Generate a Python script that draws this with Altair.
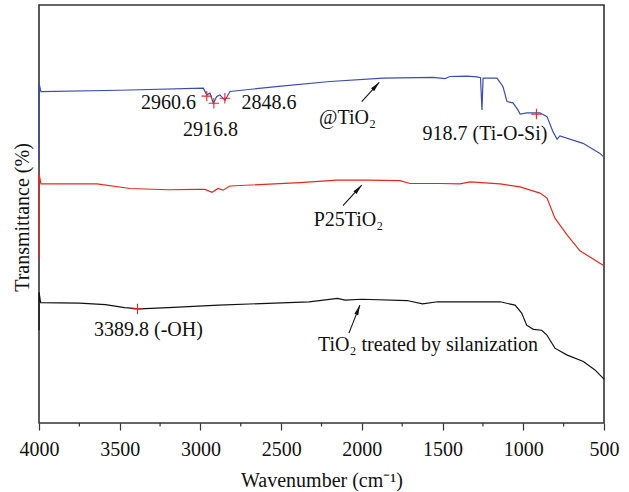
import altair as alt
import pandas as pd

# ---- spectra (wavenumber, transmittance a.u.) ----
blue_wn = [4000, 4000, 3988, 3498, 2982, 2961, 2941, 2920, 2899, 2879, 2848, 2817, 2500, 2197, 1869,
           1559, 1485, 1454, 1349, 1287, 1265, 1256, 1249, 1163, 1126, 1101, 1064, 1033, 1020,
           977, 897, 853, 816, 791, 773, 630, 525, 500]
blue_t = [62.9, 81.3, 79.3, 79.6, 80.1, 78.5, 78.9, 76.5, 78.1, 78.5, 77.2, 79.3, 80.6, 81.7, 82.5,
          82.7, 82.4, 82.9, 83.0, 82.8, 82.6, 74.9, 82.5, 82.5, 80.5, 76.9, 76.6, 74.9, 73.9,
          74.2, 74.2, 73.3, 69.7, 67.9, 68.7, 66.9, 64.5, 63.6]

red_wn = [4000, 4000, 3988, 3641, 3436, 3200, 3021, 2972, 2928, 2891, 2860, 2817, 2383, 2154, 1968,
          1764, 1702, 1516, 1392, 1330, 1144, 1020, 897, 853, 804, 729, 649, 500]
red_t = [39.5, 59.6, 57.2, 57.2, 56.1, 55.8, 55.9, 55.9, 55.2, 56.1, 55.7, 56.7, 57.5, 58.1, 58.1,
         58.0, 57.3, 57.3, 57.2, 57.7, 57.2, 56.5, 55.0, 53.8, 49.0, 45.0, 41.2, 37.6]

black_wn = [4000, 4000, 3990, 3750, 3588, 3470, 3378, 3200, 2887, 2327, 2151, 2104, 1999, 1720, 1624,
            1531, 1144, 1051, 1010, 979, 938, 886, 855, 804, 731, 628, 556, 500]
black_t = [22.2, 31.3, 28.8, 28.7, 28.3, 27.6, 27.3, 27.6, 28.2, 29.0, 29.8, 29.4, 29.6, 29.3, 28.5,
           29.0, 29.0, 28.2, 26.3, 23.4, 22.4, 22.2, 21.1, 17.9, 16.3, 14.7, 12.7, 10.5]

# ---- peak markers ----
mark_wn = [2960.6, 2916.8, 2848.6, 918.7, 3389.8]
mark_t = [78.2, 76.5, 77.7, 73.9, 27.3]

# ---- annotation labels ----
labels = ["2960.6", "2916.8", "2848.6", "@TiO₂", "918.7 (Ti-O-Si)", "P25TiO₂",
          "3389.8 (-OH)", "TiO₂ treated by silanization"]
label_wn = [3198, 2938, 2575, 2089, 1237, 2083, 3322, 1590]
label_t = [76.6, 70.1, 76.6, 73.0, 69.1, 48.6, 22.2, 18.7]

# ---- arrows ----
arrow_wn = [2001, 2117, 2080]
arrow_t = [76.9, 52.0, 21.5]
arrow_wn2 = [1892, 2001, 2012]
arrow_t2 = [81.5, 56.9, 28.2]
arrow_ang = [42, 42, 21]

major_ticks = [4000, 3500, 3000, 2500, 2000, 1500, 1000, 500]
minor_ticks = [3750, 3250, 2750, 2250, 1750, 1250, 750]

FONT = "Liberation Serif, Times New Roman, serif"

rows = []
for name, wn, t in [("blue", blue_wn, blue_t), ("red", red_wn, red_t), ("black", black_wn, black_t)]:
    for i, (a, b) in enumerate(zip(wn, t)):
        rows.append({"series": name, "wn": a, "t": b, "i": i})
spec = pd.DataFrame(rows)

xscale = alt.Scale(domain=[500, 4000], reverse=True, nice=False, zero=False)
yscale = alt.Scale(domain=[0, 100], nice=False, zero=False)

xaxis = alt.Axis(values=major_ticks, format="d", title="Wavenumber (cm⁻¹)", tickSize=7,
                 tickColor="#333", tickWidth=1.2, domain=False, grid=False, labelFont=FONT,
                 labelFontSize=20, labelColor="#111", labelPadding=9, titleFont=FONT,
                 titleFontSize=20, titleFontWeight="normal", titleColor="#111", titlePadding=11,
                 labelFlush=False)
yaxis = alt.Axis(labels=False, ticks=False, domain=False, grid=False, title="Transmittance (%)",
                 titleFont=FONT, titleFontSize=20, titleFontWeight="normal", titleColor="#111",
                 titleX=-17, titleY=212, titleBaseline="middle")

lines = alt.Chart(spec).mark_line(strokeWidth=1.2).encode(
    x=alt.X("wn:Q", scale=xscale, axis=xaxis),
    y=alt.Y("t:Q", scale=yscale, axis=yaxis),
    color=alt.Color("series:N", scale=alt.Scale(domain=["blue", "red", "black"],
                                                 range=["#3b4cb4", "#e8281e", "#111111"]),
                    legend=None),
    detail="series:N",
    order="i:Q",
)

mk = pd.DataFrame({"wn": mark_wn, "t": mark_t})
markers = alt.Chart(mk).mark_point(shape="M-1,0L1,0M0,-1L0,1", filled=False, size=110,
                                   strokeWidth=1.1, color="#e8281e", opacity=1).encode(
    x=alt.X("wn:Q", scale=xscale), y=alt.Y("t:Q", scale=yscale))

lb = pd.DataFrame({"text": labels, "wn": label_wn, "t": label_t})
texts = alt.Chart(lb).mark_text(font=FONT, fontSize=20, color="#111", align="center",
                                baseline="middle").encode(
    x=alt.X("wn:Q", scale=xscale), y=alt.Y("t:Q", scale=yscale), text="text:N")

ar = pd.DataFrame({"wn": arrow_wn, "t": arrow_t, "wn2": arrow_wn2, "t2": arrow_t2, "ang": arrow_ang})
shafts = alt.Chart(ar).mark_rule(strokeWidth=1.1, color="#111").encode(
    x=alt.X("wn:Q", scale=xscale), y=alt.Y("t:Q", scale=yscale), x2="wn2:Q", y2="t2:Q")
heads = alt.Chart(ar).mark_point(shape="M0,0L0.42,2L-0.42,2Z", filled=True, size=100,
                                 color="#111", opacity=1).encode(
    x=alt.X("wn2:Q", scale=xscale), y=alt.Y("t2:Q", scale=yscale),
    angle=alt.Angle("ang:Q", scale=None))

mt = pd.DataFrame({"wn": minor_ticks})
minor = alt.Chart(mt).mark_rule(strokeWidth=1.2, color="#333").encode(
    x=alt.X("wn:Q", scale=xscale), y=alt.value(418), y2=alt.value(421.5))

chart = alt.layer(lines, markers, texts, shafts, heads, minor).properties(
    width=565, height=418,
    autosize=alt.AutoSizeParams(type="none"),
    padding={"left": 39, "top": 5, "right": 25, "bottom": 69},
).configure_view(stroke="#333", strokeWidth=1.6)

chart.save("out.html", embed_options={"renderer": "svg", "actions": False})
